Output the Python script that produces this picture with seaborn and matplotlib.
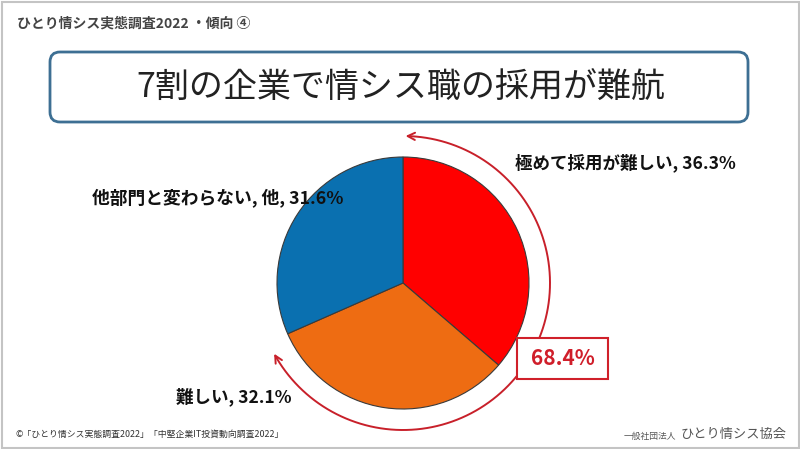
import numpy as np
import matplotlib.pyplot as plt
import seaborn as sns
from matplotlib.patches import FancyBboxPatch, FancyArrowPatch, Rectangle
from matplotlib.path import Path

# data
categories = ["極めて採用が難しい", "難しい", "他部門と変わらない, 他"]
shares = [36.3, 32.1, 31.6]
colors = ["#FF0000", "#EE6C12", "#0A70B0"]
title = "7割の企業で情シス職の採用が難航"
header = "ひとり情シス実態調査2022 ・傾向 ④"
source = "©「ひとり情シス実態調査2022」「中堅企業IT投資動向調査2022」"
org_small = "一般社団法人"
org_name = "ひとり情シス協会"

sns.set_theme(style="white")
plt.rcParams["font.family"] = ["Noto Sans CJK JP", "DejaVu Sans"]

W, H = 800, 449
fig = plt.figure(figsize=(8, 4.49), dpi=100)
ax = fig.add_axes([0, 0, 1, 1])

cx, cy, r = 403, H - 283, 126
ax.pie(shares, colors=colors, startangle=90, counterclock=False,
       center=(cx, cy), radius=r,
       wedgeprops=dict(edgecolor="#3a3a3a", linewidth=0.8))
ax.set_xlim(0, W)
ax.set_ylim(0, H)
ax.set_aspect("equal")
ax.axis("off")

# slide frame + title box
ax.add_patch(Rectangle((1.5, 1.5), W - 3, H - 3, fill=False, ec="#c4c4c4", lw=1.5))
ax.add_patch(FancyBboxPatch((50, H - 122), 698, 70,
                            boxstyle="round,pad=0,rounding_size=10",
                            fc="white", ec="#3D6F93", lw=2))
ax.text(401, H - 88, title, ha="center", va="center", fontsize=24.5, color="#222222")
ax.text(17, H - 24, header, ha="left", va="center", fontsize=10,
        color="#444444", weight="bold")

# arc around the "difficult" share
top2 = shares[0] + shares[1]
a0 = np.deg2rad(90 - 1)
a1 = np.deg2rad(90 - 360 * top2 / 100 + 5)
t = np.linspace(a0, a1, 120)
ra = 147
arc = Path(np.column_stack([cx + ra * np.cos(t), cy + ra * np.sin(t)]))
ax.add_patch(FancyArrowPatch(path=arc, arrowstyle="<->", mutation_scale=13,
                             color="#C8202A", lw=1.4))

ax.add_patch(Rectangle((517, H - 379), 91, 41, fc="white", ec="#D0202A", lw=1.5, zorder=5))
ax.text(562.5, H - 358.5, f"{top2:.1f}%", ha="center", va="center", fontsize=15,
        weight="bold", color="#D01E2A", zorder=6)

# slice labels
lab = [f"{c}, {v}%" for c, v in zip(categories, shares)]
ax.text(515, H - 163, lab[0], ha="left", va="center", fontsize=12.6, weight="bold", color="#111111")
ax.text(176, H - 397, lab[1], ha="left", va="center", fontsize=12.6, weight="bold", color="#111111")
ax.text(92, H - 198, lab[2], ha="left", va="center", fontsize=12.8, weight="bold", color="#111111")

# footer
ax.text(15, H - 434, source, ha="left", va="center", fontsize=6.4, color="#333333")
ax.text(676, H - 436, org_small, ha="right", va="center", fontsize=6.3, color="#555555")
ax.text(681, H - 434, org_name, ha="left", va="center", fontsize=9.5, color="#555555")

plt.savefig("out.png", dpi=100)
plt.close()
